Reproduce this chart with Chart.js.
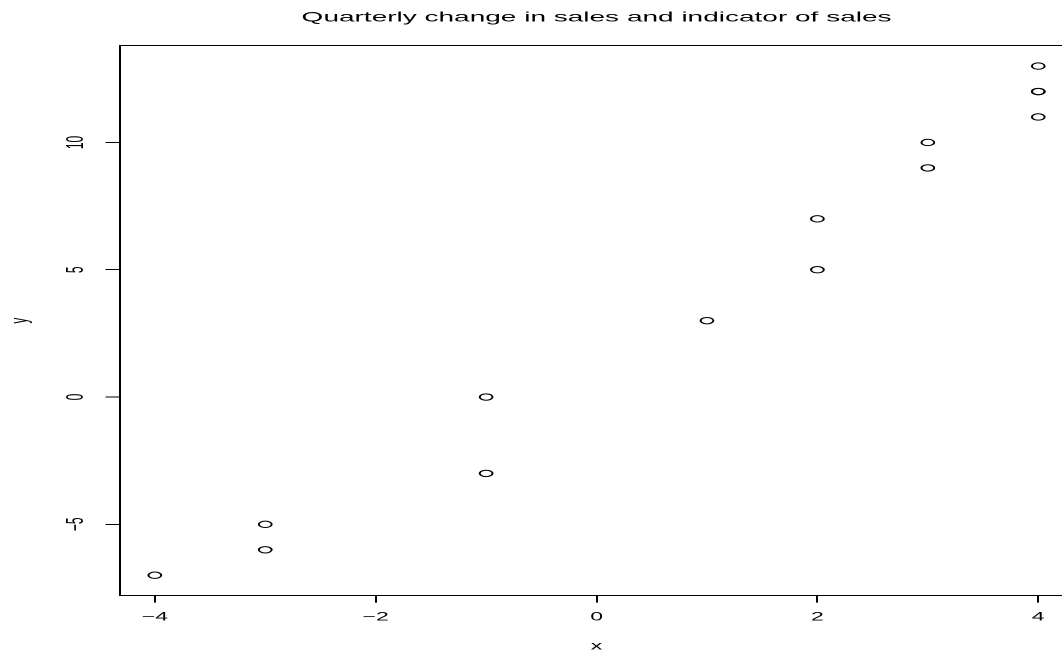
<!DOCTYPE html>
<html>
<head>
<meta charset="utf-8">
<script src="https://cdn.jsdelivr.net/npm/chart.js@4/dist/chart.umd.min.js"></script>
<style>
  html, body { margin: 0; padding: 0; background: #fff; overflow: hidden; width: 1062px; height: 652px; }
  #c { display: block; width: 1100px; height: 652px; }
</style>
</head>
<body>
<canvas id="c" width="550" height="652" style="width:1100px;height:652px;"></canvas>
<script>
// ---- data ----
const chartTitle = "Quarterly change in sales and indicator of sales";
const xValues = [-4, -3, -3, -1, -1, 1, 2, 2, 3, 3, 4, 4, 4, 4];
const yValues = [-7, -5, -6, 0, -3, 3, 5, 7, 9, 10, 11, 12, 12, 13];
const xTickValues = [-4, -2, 0, 2, 4];
const yTickValues = [-5, 0, 5, 10];
const xLabel = "x";
const yLabel = "y";

const points = xValues.map((x, i) => ({ x: x, y: yValues[i] }));
const xMin = -4.32, xMax = 4.32, yMin = -7.8, yMax = 13.8;
const fontFamily = "'Liberation Sans', Arial, Helvetica, sans-serif";
const fmt = v => (v < 0 ? '\u2212' + Math.abs(v) : String(v));

new Chart(document.getElementById('c'), {
  type: 'scatter',
  data: {
    datasets: [{
      data: points,
      pointStyle: 'circle',
      radius: 3.2,
      hoverRadius: 3.2,
      borderColor: '#000',
      borderWidth: 1,
      backgroundColor: 'rgba(0,0,0,0)',
      showLine: false
    }]
  },
  options: {
    responsive: false,
    animation: false,
    devicePixelRatio: 2,
    events: [],
    layout: { padding: { left: 0, right: 13.2, top: 0, bottom: 0 } },
    plugins: { legend: { display: false }, tooltip: { enabled: false }, title: { display: false } },
    scales: {
      x: {
        type: 'linear', position: 'bottom', min: xMin, max: xMax,
        afterBuildTicks: s => { s.ticks = xTickValues.map(v => ({ value: v })); },
        afterFit: s => { s.height = 652 - 595.6; },
        grid: { display: true, drawOnChartArea: false, drawTicks: true, tickLength: 7, color: '#000', lineWidth: 1 },
        border: { display: true, color: '#000', width: 1 },
        ticks: { color: '#000', padding: 8, font: { family: fontFamily, size: 11.5 }, callback: v => fmt(v), maxRotation: 0 },
        title: { display: true, text: xLabel, color: '#000', font: { family: fontFamily, size: 11.5, lineHeight: 1 }, padding: { top: 0, bottom: 0 } }
      },
      xTop: {
        type: 'linear', position: 'top', min: xMin, max: xMax,
        afterFit: s => { s.height = 45.7; },
        grid: { display: false },
        border: { display: true, color: '#000', width: 1 },
        ticks: { display: false },
        title: { display: true, text: chartTitle, color: '#000', font: { family: fontFamily, size: 14, lineHeight: 1 }, padding: { top: 10.4, bottom: 0 } }
      },
      y: {
        type: 'linear', position: 'left', min: yMin, max: yMax,
        afterBuildTicks: s => { s.ticks = yTickValues.map(v => ({ value: v })); },
        afterFit: s => { s.width = 59.75; },
        grid: { display: true, drawOnChartArea: false, drawTicks: true, tickLength: 7, color: '#000', lineWidth: 1 },
        border: { display: true, color: '#000', width: 1 },
        ticks: { color: '#000', padding: 7.5, minRotation: 90, maxRotation: 90, crossAlign: 'center', font: { family: fontFamily, size: 12 }, callback: v => fmt(v) },
        title: { display: true, text: yLabel, color: '#000', font: { family: fontFamily, size: 11.5, lineHeight: 1 }, padding: { top: 4.5, bottom: 0 } }
      }
    }
  }
});
</script>
</body>
</html>
